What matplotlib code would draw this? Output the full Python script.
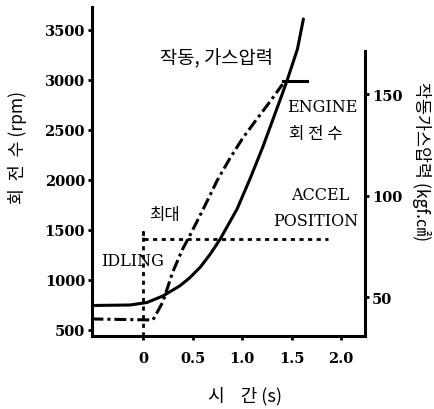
import matplotlib
matplotlib.use('Agg')
import matplotlib.pyplot as plt

# 엔진 회전수 (rpm)
t_engine = [-0.52, -0.13, 0.04, 0.20, 0.37, 0.47, 0.58, 0.68, 0.78, 0.95, 1.08, 1.21,
            1.31, 1.41, 1.46, 1.56, 1.62]
rpm_engine = [745, 750, 775, 840, 940, 1020, 1130, 1260, 1410, 1710, 2010, 2330,
              2600, 2870, 3010, 3310, 3610]

# 작동 가스압력 (kgf/cm2)
t_gas = [-0.52, 0.10, 0.20, 0.30, 0.40, 0.47, 0.60, 0.75, 0.88, 1.01, 1.15, 1.28, 1.41]
p_gas = [39.2, 38.7, 47.5, 62.3, 73.6, 80.0, 92.5, 107.5, 118.5, 128.5, 137.7, 146.1, 154.9]
t_gas_max = [1.41, 1.66]
p_gas_max = [156.4, 156.4]

# accel position (rpm 축 기준으로 그림)
t_accel = [0, 0, 0, 1.87]
accel = [440, 1480, 1410, 1410]

rpm_ticks = [500, 1000, 1500, 2000, 2500, 3000, 3500]
p_ticks = [50, 100, 150]
t_ticks = [0, 0.5, 1.0, 1.5, 2.0]
t_labels = ['0', '0.5', '1.0', '1.5', '2.0']

kr = ['Noto Sans CJK KR', 'DejaVu Sans']
num = dict(family='DejaVu Serif', weight='bold', size=10.5)

fig = plt.figure(figsize=(4.34, 4.10), dpi=100)
ax = fig.add_axes([92/434, 1 - 337/410, (365 - 92)/434, (337 - 8)/410])
ax2 = ax.twinx()

ax.plot(t_engine, rpm_engine, color='black', lw=2.2, solid_capstyle='round',
        solid_joinstyle='round')
ax.plot(t_accel, accel, color='black', lw=2.0, linestyle=(0, (1.5, 1.6)))
ax2.plot(t_gas, p_gas, color='black', lw=2.2, linestyle=(0, (3.9, 1.3, 1.0, 1.3)))
ax2.plot(t_gas_max, p_gas_max, color='black', lw=2.2)

ax.set_xlim(-0.515, 2.242)
ax.set_ylim(440, 3730)
ax2.set_ylim(30.8, 192.9)

ax.spines['top'].set_visible(False)
ax.spines['right'].set_visible(False)
ax2.spines['top'].set_visible(False)
ax2.spines['left'].set_visible(False)
ax2.spines['bottom'].set_visible(False)
ax2.spines['right'].set_bounds(30.8, 171)
for s in ['left', 'bottom']:
    ax.spines[s].set_linewidth(2.2)
ax2.spines['right'].set_linewidth(2.2)

ax.set_yticks(rpm_ticks)
ax.set_yticklabels([str(v) for v in rpm_ticks], fontdict=num)
ax.set_xticks(t_ticks)
ax.set_xticklabels(t_labels, fontdict=num)
ax2.set_yticks(p_ticks)
ax2.set_yticklabels([str(v) for v in p_ticks], fontdict=num)
ax.tick_params(axis='both', direction='out', length=3, width=2, pad=2)
ax2.tick_params(axis='y', direction='out', length=3, width=2, pad=2)
ax.tick_params(axis='x', pad=8)

# 주석
ax.text(0.74, 3220, '작동, 가스압력', family=kr, fontsize=13.5, ha='center', va='center')
ax.text(1.81, 2730, 'ENGINE', family='DejaVu Serif', fontsize=11.5, ha='center', va='center')
ax.text(1.75, 2460, '회 전 수', family=kr, fontsize=12, ha='center', va='center')
ax.text(1.79, 1850, 'ACCEL', family='DejaVu Serif', fontsize=11.5, ha='center', va='center')
ax.text(1.74, 1590, 'POSITION', family='DejaVu Serif', fontsize=11.5, ha='center', va='center')
ax.text(0.22, 1650, '최대', family=kr, fontsize=12, ha='center', va='center')
ax.text(-0.11, 1190, 'IDLING', family='DejaVu Serif', fontsize=11.5, ha='center', va='center')

fig.text(18/434, 1 - 148/410, '회  전  수 (rpm)', family=kr, fontsize=12.5,
         rotation=90, ha='center', va='center')
fig.text(422/434, 1 - 162/410, '작동가스압력 (kgf.㎠)', family=kr, fontsize=12.5,
         rotation=270, ha='center', va='center')
fig.text(245/434, 1 - 396/410, '시    간 (s)', family=kr, fontsize=13,
         ha='center', va='center')

fig.savefig('out.png', dpi=100)
